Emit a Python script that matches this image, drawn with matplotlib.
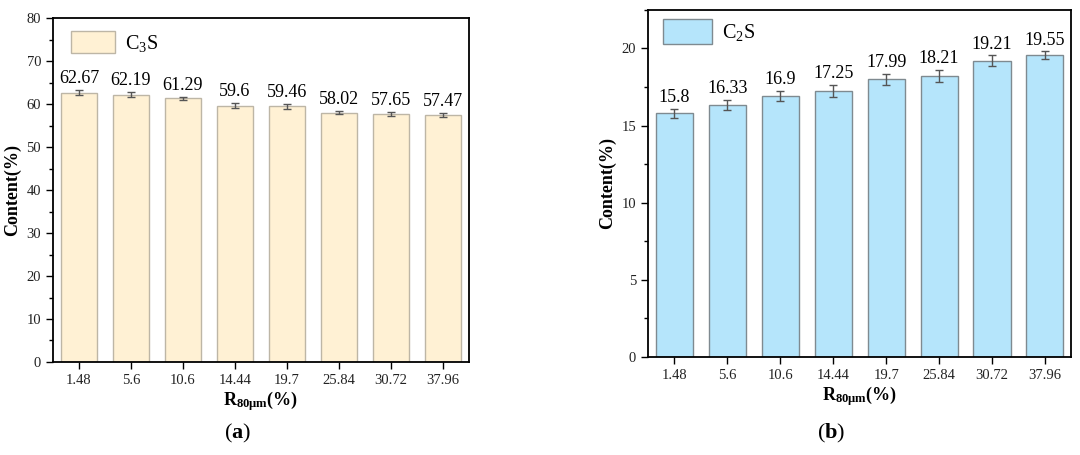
import matplotlib
matplotlib.use("Agg")
import matplotlib.pyplot as plt
from matplotlib.ticker import MultipleLocator

plt.rcParams['font.family'] = ['Liberation Serif', 'DejaVu Serif']
plt.rcParams['mathtext.fontset'] = 'custom'
plt.rcParams['mathtext.rm'] = 'Liberation Serif'
plt.rcParams['mathtext.it'] = 'Liberation Serif:italic'
plt.rcParams['mathtext.bf'] = 'Liberation Serif:bold'

categories = ['1.48', '5.6', '10.6', '14.44', '19.7', '25.84', '30.72', '37.96']
c3s = [62.67, 62.19, 61.29, 59.6, 59.46, 58.02, 57.65, 57.47]
c3s_err = [0.58, 0.58, 0.43, 0.58, 0.58, 0.43, 0.5, 0.5]
c2s = [15.8, 16.33, 16.9, 17.25, 17.99, 18.21, 19.21, 19.55]
c2s_err = [0.3, 0.33, 0.33, 0.37, 0.38, 0.38, 0.34, 0.25]
labels_c3s = ['62.67', '62.19', '61.29', '59.6', '59.46', '58.02', '57.65', '57.47']
labels_c2s = ['15.8', '16.33', '16.9', '17.25', '17.99', '18.21', '19.21', '19.55']

fig = plt.figure(figsize=(10.8, 4.55), dpi=100)
ax1 = fig.add_axes([0.049, 0.2044, 0.385, 0.756])
ax2 = fig.add_axes([0.600, 0.2154, 0.392, 0.763])

def draw(ax, vals, errs, labs, face, edge, ylim, major, minor, leg, anchor, hl, hh):
    x = list(range(len(categories)))
    ax.bar(x, vals, width=0.7, color=face, edgecolor=edge, linewidth=1.0,
           label=leg, zorder=2)
    ax.errorbar(x, vals, yerr=errs, fmt='none', ecolor='#555555',
                elinewidth=1.0, capsize=3, capthick=1.0, zorder=3)
    for xi, v, e, t in zip(x, vals, errs, labs):
        ax.annotate(t, (xi, v + e), xytext=(0, 2), textcoords='offset points',
                    ha='center', va='bottom', fontsize=13)
    ax.set_xlim(-0.5, len(categories) - 0.5)
    ax.set_ylim(*ylim)
    ax.set_xticks(x)
    ax.set_xticklabels(categories)
    ax.yaxis.set_major_locator(MultipleLocator(major))
    ax.yaxis.set_minor_locator(MultipleLocator(minor))
    ax.tick_params(axis='both', which='major', direction='out', length=5,
                   width=1.0, labelsize=10.5, top=False, right=False,
                   labelcolor='#222222')
    ax.tick_params(axis='y', which='minor', direction='out', length=3,
                   width=1.0, right=False)
    for s in ax.spines.values():
        s.set_linewidth(1.3)
    ax.set_ylabel('Content(%)', fontsize=13, fontweight='bold', labelpad=4)
    ax.set_xlabel(r'R$_{\mathbf{80\mu m}}$(%)', fontsize=13,
                  fontweight='bold', labelpad=2)
    ax.legend(loc='upper left', frameon=False, fontsize=14.5,
              handlelength=hl, handleheight=hh, borderaxespad=0, borderpad=0,
              bbox_to_anchor=anchor, handletextpad=0.5)

draw(ax1, c3s, c3s_err, labels_c3s, '#FFF1D4', '#BDB6A6', (0, 80), 10, 5,
     r'C$_3$S', (0.043, 0.962), 2.2, 1.3)
draw(ax2, c2s, c2s_err, labels_c2s, '#B5E5FB', '#7F8A90', (0, 22.5), 5, 2.5,
     r'C$_2$S', (0.035, 0.975), 2.45, 1.55)

fig.text(0.2195, 0.048, r'($\mathbf{a}$)', ha='center', va='center',
         fontsize=16)
fig.text(0.770, 0.048, r'($\mathbf{b}$)', ha='center', va='center',
         fontsize=16)

fig.savefig('out.png', dpi=100)
